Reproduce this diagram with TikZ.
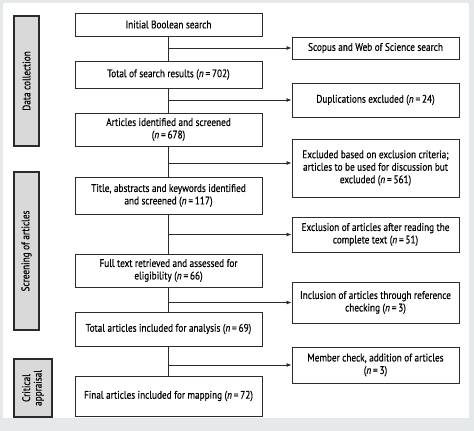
\documentclass[tikz,border=0pt]{standalone}
\usepackage{fontspec}
\setmainfont{PT Sans}[FakeStretch=0.84,FakeBold=0.4]
\usetikzlibrary{arrows.meta}
\definecolor{pagebg}{HTML}{E6E9E9}
\definecolor{phasegray}{HTML}{D9D9D9}
\definecolor{boxline}{HTML}{2B2B2B}
\tikzset{
  mainbox/.style={draw=boxline,line width=0.9pt,fill=white,minimum width=187pt,align=center,inner sep=1pt,font=\fontsize{11}{12.5}\selectfont},
  sidebox/.style={draw=boxline,line width=0.9pt,fill=white,minimum width=167pt,align=center,inner sep=1pt,font=\fontsize{11}{12.5}\selectfont},
  phase/.style={draw=boxline,line width=1.2pt,fill=phasegray,rotate=90,align=center,inner sep=1pt,font=\fontsize{11}{11.5}\selectfont},
  link/.style={draw=boxline,line width=0.8pt},
  arr/.style={link,-{Latex[length=5pt,width=4pt]}}
}
\newcommand{\nn}[1]{(\textit{n}\,=\,#1)}
\begin{document}
\begin{tikzpicture}[x=1pt,y=-1pt]
\useasboundingbox (0,0) rectangle (474,431);
\fill[pagebg] (0,0) rectangle (474,431);
\fill[white] (3,3) rectangle (469,418);

% phases
\node (s1) [phase,minimum width=130pt,minimum height=25pt] at (26.5,81) {Data collection};
\node (s2) [phase,minimum width=158pt,minimum height=25pt] at (26.5,251) {Screening of articles};
\node (s3) [phase,minimum width=58pt,minimum height=38pt] at (33,388) {Critical\\appraisal};

% main column
\node (b1) [mainbox,minimum height=23pt] at (168.5,24.5) {Initial Boolean search};
\node (b2) [mainbox,minimum height=27pt] at (168.5,74.5) {Total of search results \nn{702}};
\node (b3) [mainbox,minimum height=33pt] at (168.5,129.5) {Articles identified and screened\\\nn{678}};
\node (b4) [mainbox,minimum height=37pt] at (168.5,195.5) {Title, abstracts and keywords identified\\and screened \nn{117}};
\node (b5) [mainbox,minimum height=33pt] at (168.5,270.5) {Full text retrieved and assessed for\\eligibility \nn{66}};
\node (b6) [mainbox,minimum height=34pt] at (168.5,329) {Total articles included for analysis \nn{69}};
\node (b7) [mainbox,minimum height=40pt] at (168.5,396) {Final articles included for mapping \nn{72}};

% right column
\node (r1) [sidebox,minimum height=22pt] at (375.5,48) {Scopus and Web of Science search};
\node (r2) [sidebox,minimum height=34pt] at (375.5,100) {Duplications excluded \nn{24}};
\node (r3) [sidebox,minimum height=58pt] at (375.5,168) {Excluded based on exclusion criteria;\\articles to be used for discussion but\\excluded \nn{561}};
\node (r4) [sidebox,minimum height=35pt] at (375.5,234.5) {Exclusion of articles after reading the\\complete text \nn{51}};
\node (r5) [sidebox,minimum height=41pt] at (375.5,302.5) {Inclusion of articles through reference\\checking \nn{3}};
\node (r6) [sidebox,minimum height=36pt] at (375.5,365) {Member check, addition of articles\\\nn{3}};

% flow
\foreach \a/\b in {b1/b2,b2/b3,b3/b4,b4/b5,b5/b6,b6/b7}
  \draw[link] (\a.south) -- (\b.north);
\draw[arr] (r1.west -| b1.south) -- (r1.west);
\draw[arr] (r2.west -| b2.south) -- (r2.west);
\draw[arr] ([yshift=5pt]r3.west -| b3.south) -- ([yshift=5pt]r3.west);
\draw[arr] (r4.west -| b4.south) -- (r4.west);
\draw[arr] (r5.west -| b5.south) -- (r5.west);
\draw[arr] (r6.west -| b6.south) -- (r6.west);
\end{tikzpicture}
\end{document}
